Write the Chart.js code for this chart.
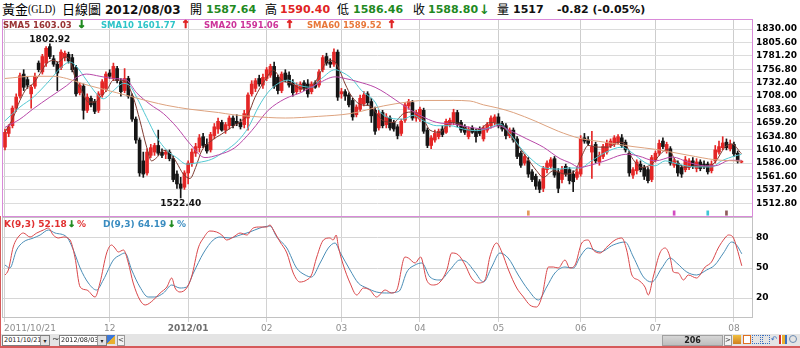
<!DOCTYPE html>
<html><head><meta charset="utf-8">
<script src="https://cdn.jsdelivr.net/npm/chart.js"></script>
<style>
body{margin:0;background:#fff;}
#wrap{position:relative;width:800px;height:348px;overflow:hidden;background:#fff;font-family:"DejaVu Sans",Verdana,sans-serif;}
.h{position:absolute;top:1px;height:18px;line-height:18px;white-space:nowrap;font-weight:bold;font-size:11px;}
.cj{position:absolute;top:0;height:18px;line-height:18px;white-space:nowrap;font-family:"Noto Sans CJK TC",serif;font-size:13px;color:#000;}
.lat{position:absolute;top:0;height:18px;line-height:18px;white-space:nowrap;font-family:"Liberation Serif",serif;font-size:12.5px;color:#000;transform:scaleX(0.8);transform-origin:0 50%;}
.lg{position:absolute;top:19px;height:12px;line-height:12px;white-space:nowrap;font-weight:bold;font-size:8.5px;z-index:5;}
.ar{font-size:11px;-webkit-text-stroke:0.6px currentColor;}
.kl{position:absolute;top:218px;height:12px;line-height:12px;white-space:nowrap;font-weight:bold;font-size:9px;z-index:5;}
.g{color:#1F8A1F}.r{color:#E02424}
canvas{position:absolute;left:0;}
.sel{position:absolute;top:335px;height:9px;width:45px;border:1px solid #7E7E7E;background:#fff;font-size:6.5px;line-height:9px;padding-left:1px;box-sizing:content-box;color:#222;white-space:nowrap;overflow:hidden;}
.dd{position:absolute;right:0;top:0;width:8px;height:9px;background:#E2E2E2;border-left:1px solid #9A9A9A;text-align:center;font-size:6px;line-height:9px;}
.ic{position:absolute;top:335px;width:8px;height:9px;}
</style></head><body>
<div id="wrap">
  <span class="cj" style="left:2px">黃金</span>
  <span class="lat" style="left:28px">(GLD)</span>
  <span class="cj" style="left:62px">日線圖</span>
  <span class="h" style="left:105px;font-size:12px;color:#111">2012/08/03</span>
  <span class="cj" style="left:190px;font-size:12px">開</span>
  <span class="h g" style="left:206px">1587.64</span>
  <span class="cj" style="left:265px;font-size:12px">高</span>
  <span class="h r" style="left:280px">1590.40</span>
  <span class="cj" style="left:337px;font-size:12px">低</span>
  <span class="h g" style="left:353px">1586.46</span>
  <span class="cj" style="left:413px;font-size:12px">收</span>
  <span class="h g" style="left:428px">1588.80</span>
  <span class="h g" style="left:479px;font-size:13px">↓</span>
  <span class="cj" style="left:497px;font-size:12px">量</span>
  <span class="h" style="left:513px;color:#111">1517</span>
  <span class="h" style="left:557px;color:#111">-0.82 (-0.05%)</span>

  <canvas id="main" width="800" height="198" style="top:19px"></canvas>
  <canvas id="kd" width="800" height="117" style="top:217px"></canvas>

  <span class="lg" style="left:3px;color:#993333">SMA5 1603.03</span>
  <span class="lg g ar" style="left:77px">↓</span>
  <span class="lg" style="left:101px;color:#2EC4C8">SMA10 1601.77</span>
  <span class="lg r ar" style="left:181px">↑</span>
  <span class="lg" style="left:204px;color:#CC3399">SMA20 1591.06</span>
  <span class="lg r ar" style="left:285px">↑</span>
  <span class="lg" style="left:307px;color:#E8783A">SMA60 1589.52</span>
  <span class="lg r ar" style="left:387px">↑</span>

  <span class="kl" style="left:4px;color:#E03030">K(9,3) 52.18</span>
  <span class="kl g ar" style="left:68px">↓</span>
  <span class="kl" style="left:77px;color:#E03030">%</span>
  <span class="kl" style="left:103px;color:#3A8CC0">D(9,3) 64.19</span>
  <span class="kl g ar" style="left:168px">↓</span>
  <span class="kl" style="left:177px;color:#3A8CC0">%</span>

  <div style="position:absolute;left:1px;top:334px;width:799px;height:12px;background:#E4E4E4"></div>
  <div class="sel" style="left:2px">2011/10/21<span class="dd">▾</span></div>
  <div style="position:absolute;left:52px;top:333px;font-size:9px;line-height:12px;color:#333">~</div>
  <div class="sel" style="left:59px">2012/08/03<span class="dd">▾</span></div>
  <div class="ic" style="left:107px;background:linear-gradient(135deg,#3C78D8 0 50%,#E8B030 50% 100%)"></div>
  <div style="position:absolute;left:117px;top:335px;width:6px;height:9px;border:1px solid #999;background:#F4F4F4;font-size:7px;line-height:9px;text-align:center;color:#333">&lt;</div>
  <div style="position:absolute;left:662px;top:335px;width:59px;height:9px;border:1px solid #A0A0A0;background:linear-gradient(#D6D6D6,#BEBEBE);font-weight:bold;font-size:8px;line-height:9px;text-align:center;color:#222">206</div>
  <div style="position:absolute;left:724px;top:335px;width:6px;height:9px;border:1px solid #999;background:#F4F4F4;font-size:7px;line-height:9px;text-align:center;color:#333">&gt;</div>
  <div class="ic" style="left:733px;background:linear-gradient(#F0C040,#D08020)"></div>
  <div class="ic" style="left:743px;width:6px;height:7px;border:1px solid #E07020;background:#fff"></div>
  <div class="ic" style="left:752px;border:1px dotted #3A6FC0;width:7px;height:7px"></div>
  <div class="ic" style="left:762px;border:1px dotted #3A6FC0;width:6px;height:7px"></div>
  <div class="ic" style="left:771px;color:#3A6FC0;font-size:8px;line-height:9px">↶</div>
  <div class="ic" style="left:779px;background:linear-gradient(90deg,#D03030 0 30%,#fff 30% 40%,#E8B030 40% 70%,#fff 70% 80%,#3A6FC0 80%)"></div>
  <div class="ic" style="left:789px;border:1px solid #6A8AB0;border-radius:50%;width:6px;height:6px"></div>
  <div style="position:absolute;left:0;top:216px;width:1px;height:132px;background:#D65A5A"></div>
  <div style="position:absolute;left:0;top:346px;width:800px;height:2px;background:#D65A5A"></div>
</div>
<script>
// ---------- data ----------
const openPrices = [1615,1640,1654,1686,1708,1748,1738,1712,1726,1768,1752,1768,1798,1776,1766,1760,1778,1784,1778,1760,
1714,1726,1682,1704,1698,1682,1710,1722,1750,1740,1758,1734,1718,1740,1708,1666,1628,1590,1568,1600,
1606,1618,1606,1602,1606,1594,1566,1548,1542,1568,1586,1604,1614,1634,1620,1610,1636,1648,1660,1646,
1654,1668,1662,1660,1656,1668,1712,1722,1740,1728,1740,1746,1762,1742,1718,1750,1746,1732,1716,1720,
1732,1730,1716,1732,1728,1756,1780,1770,1766,1788,1712,1716,1710,1700,1674,1684,1694,1712,1698,1682,
1650,1678,1656,1668,1660,1652,1640,1664,1690,1696,1668,1666,1682,1646,1618,1628,1634,1648,1642,1656,
1660,1678,1660,1652,1634,1650,1644,1648,1630,1646,1654,1660,1670,1658,1654,1636,1646,1630,1604,1586,
1590,1570,1562,1552,1540,1574,1580,1594,1570,1556,1580,1574,1566,1560,1566,1632,1628,1606,1620,1588,
1598,1606,1618,1620,1624,1632,1624,1604,1564,1572,1584,1578,1574,1556,1592,1604,1626,1608,1612,1582,
1586,1578,1574,1578,1590,1576,1588,1584,1584,1572,1590,1606,1614,1624,1612,1620,1604,1587.64];
const highPrices = [1648,1656,1690,1712,1750,1756,1744,1728,1750,1772,1784,1798,1802.92,1782,1770,1792,1790,1788,1784,1764,
1732,1730,1712,1708,1702,1716,1738,1752,1756,1768,1762,1740,1758,1744,1712,1670,1632,1606,1612,1620,
1622,1646,1612,1610,1610,1598,1572,1560,1572,1590,1612,1622,1638,1640,1630,1642,1658,1668,1664,1660,
1672,1672,1674,1666,1682,1714,1736,1740,1746,1748,1760,1766,1770,1746,1752,1756,1752,1738,1732,1734,
1736,1738,1734,1736,1756,1782,1786,1776,1794,1792,1722,1720,1714,1704,1692,1710,1716,1716,1704,1688,
1682,1682,1676,1672,1664,1656,1666,1696,1702,1700,1682,1688,1686,1650,1636,1646,1648,1654,1666,1668,
1684,1682,1664,1656,1652,1654,1648,1652,1654,1660,1672,1674,1676,1662,1658,1650,1650,1634,1608,1602,
1596,1574,1566,1556,1580,1590,1596,1598,1576,1580,1584,1578,1572,1578,1636,1640,1634,1644,1624,1606,
1620,1628,1630,1636,1638,1638,1628,1608,1578,1592,1590,1582,1578,1600,1608,1628,1632,1624,1616,1594,
1590,1582,1598,1594,1596,1594,1592,1590,1588,1590,1618,1626,1634,1630,1628,1624,1608,1590.40];
const lowPrices = [1610,1634,1650,1680,1704,1718,1722,1686,1722,1752,1748,1762,1776,1762,1718,1756,1772,1768,1752,1708,
1710,1666,1678,1688,1676,1678,1706,1716,1740,1736,1732,1708,1714,1704,1662,1622,1562,1560,1564,1596,
1600,1600,1596,1594,1590,1552,1540,1522.40,1538,1548,1580,1598,1606,1614,1604,1606,1630,1640,1644,1640,
1648,1650,1654,1648,1650,1646,1708,1716,1726,1722,1736,1742,1722,1712,1714,1734,1724,1708,1712,1716,
1718,1706,1712,1722,1724,1752,1764,1760,1762,1700,1704,1700,1688,1664,1670,1680,1690,1692,1660,1638,
1646,1650,1650,1646,1644,1630,1636,1660,1684,1664,1662,1662,1640,1614,1612,1624,1630,1634,1640,1652,
1656,1652,1642,1638,1630,1640,1624,1636,1626,1642,1650,1656,1650,1644,1630,1632,1624,1594,1578,1582,
1560,1552,1538,1532,1534,1568,1576,1560,1532,1550,1562,1548,1534,1556,1562,1622,1618,1558,1586,1582,
1594,1602,1614,1616,1620,1614,1606,1562,1558,1566,1570,1556,1550,1552,1588,1600,1612,1604,1582,1578,
1562,1560,1570,1574,1576,1570,1572,1576,1566,1568,1586,1602,1610,1610,1608,1598,1586,1586.46];
const closePrices = [1642,1652,1686,1706,1745,1724,1728,1724,1744,1756,1780,1795,1780,1766,1750,1788,1786,1772,1756,1712,
1728,1682,1706,1692,1680,1712,1734,1748,1744,1762,1736,1716,1740,1708,1666,1628,1568,1566,1606,1614,
1618,1604,1600,1606,1594,1556,1548,1540,1568,1586,1606,1616,1632,1618,1608,1638,1652,1662,1646,1656,
1668,1654,1658,1652,1676,1710,1730,1736,1730,1742,1756,1762,1726,1718,1748,1738,1728,1714,1728,1730,
1722,1712,1730,1724,1752,1778,1768,1766,1788,1706,1716,1708,1692,1670,1688,1704,1710,1696,1672,1644,
1676,1654,1670,1650,1648,1636,1662,1692,1698,1668,1678,1684,1644,1618,1632,1640,1644,1638,1662,1664,
1678,1656,1646,1642,1648,1642,1634,1640,1650,1656,1668,1670,1654,1648,1636,1646,1628,1598,1582,1598,
1566,1556,1544,1538,1576,1586,1592,1564,1540,1574,1566,1554,1552,1570,1630,1626,1622,1616,1590,1600,
1616,1622,1626,1632,1634,1618,1610,1568,1574,1588,1574,1562,1554,1596,1604,1622,1616,1620,1586,1590,
1568,1566,1592,1590,1580,1588,1576,1580,1570,1584,1610,1616,1622.55,1614,1620,1602.73,1589.62,1588.80];

const sma5Day = [0,2.2,4,5.8,7.6,9.4,11.1,12.9,14.3,16.1,17.4,18.7,20.5,22.3,24.1,25.4,27.2,29,30.8,32.6,
34.3,36.1,37.9,39.2,40.6,42.4,44.1,45.9,47.7,49.5,51,52.6,55.3,58,60.6,63.3,65.1,66.9,69.6,71.8,
74,76.7,79.4,82,84.7,86.5,88.3,89.5,91,92.7,95.4,97.7,99.4,101.2,103.9,106.6,109.2,111.9,113.7,116.4,
119.1,121.7,124.4,127.1,129.8,132,134.2,136.9,139.6,142.2,144,146.7,149.8,152.5,154.3,156,158.7,161.4,164.1,165.9,
167.7,170.3,173,175.7,177.5,179.2,181.9,184.6,187.3,189.9,192.6,194.4,197];
const sma5 = [1642,1669,1700,1722,1731,1749,1767,1773,1770,1779,1773,1743,1718,1697,1697,1706,1718,1737,1737,1731,
1706,1663,1615,1590,1596,1609,1605,1587,1566,1558,1578,1608,1627,1639,1651,1663,1676,1706,1737,1755,
1737,1731,1721,1724,1755,1773,1770,1755,1730,1708,1692,1690,1676,1663,1660,1676,1679,1666,1646,1642,
1660,1657,1645,1648,1660,1657,1645,1621,1596,1572,1560,1572,1566,1572,1599,1618,1615,1615,1624,1621,
1596,1578,1584,1605,1611,1593,1578,1581,1579,1587,1615,1621,1603.03];

const sma10Day = [0,4,7.6,12,14.7,17.4,19.2,21.8,24.5,26.3,29,31.7,33.4,35.2,37.9,40.6,43.3,45.9,48.6,51.7,
55.3,58.9,62.4,65.1,67.8,70.4,73.1,75.8,78.5,82,84.7,88.3,90,92.7,95.4,99,100.3,103,106.6,109.2,
111.9,115.5,119.1,122.6,126.2,129.8,132.4,135.1,137.8,141.3,144,148.5,150.7,153.8,156.9,160.5,165,167.7,171.2,173.9,
176.6,180.1,184.6,189,191.7,195.3,197];
const sma10 = [1663,1688,1706,1737,1758,1770,1761,1737,1712,1703,1718,1731,1727,1706,1669,1633,1609,1596,1584,1587,
1593,1608,1627,1651,1688,1715,1731,1737,1728,1724,1740,1756,1752,1740,1718,1697,1680,1668,1666,1673,
1663,1654,1654,1648,1645,1651,1657,1639,1615,1590,1578,1575,1577,1577,1590,1605,1615,1605,1587,1581,
1590,1584,1579,1579,1590,1599,1601.77];

const sma20Day = [0,4,7.6,12,16.5,19.2,21.8,25.4,29,32.5,35.2,38.8,42.4,46,49.5,53.5,57.1,61.5,66,70.4,
74.9,79.4,83.8,88.3,91,94.5,99,102.1,106.6,111,115.5,120,124.4,128.9,132,135.1,139.6,144,148.5,151,
153.8,156,160.5,165,166.8,169.4,174,178.5,183,187.2,190,193.8,197];
const sma20 = [1651,1666,1685,1706,1727,1742,1748,1744,1740,1737,1714,1693,1676,1651,1621,1596,1601,1614,1645,1682,
1703,1715,1731,1743,1740,1734,1724,1712,1691,1673,1660,1657,1651,1648,1654,1645,1630,1615,1594,1587,
1578,1581,1590,1601,1602,1599,1590,1597,1587,1581,1581,1591,1591.06];

const sma60Day = [0,7.6,12.9,16.5,21,25.4,29.9,34.3,38.8,43.3,49.5,57.1,61,66,75,83.8,92.3,101.2,107.5,112,
120,124.4,128,132,136,142,148,153.8,160.5,168,174,183,190,197];
const sma60 = [1740,1744,1744,1740,1730,1722,1714,1706,1698,1691,1684,1678,1674,1671,1668,1671,1676,1690,1697,1700,
1700,1699,1692,1686,1678,1662,1644,1631,1624,1616,1611,1600,1592,1589.52];

const kDay = [0,0.9,2.2,4,4.9,6.7,8.5,10.3,11.6,12.9,14.3,15.6,17.4,18.7,20.1,21.9,24.1,25.4,27.2,28.5,
29.4,30.3,31.7,33,34.3,36.1,37.5,39.7,41.5,43.3,44.6,45.5,46.8,48.6,49.9,51.7,53.1,54.8,56.6,58,
59.3,61.1,62.9,64.7,66.4,68.2,70,70.9,71.8,73.6,75.4,77.1,78.9,80.7,82,83.4,85.2,86.9,87.8,88.6,
89.2,90.5,92.3,94.1,95.9,97.6,99.4,101.7,103.4,104.8,107,107.9,109.7,111.2,112.8,114.6,116.4,118.2,119.5,121.3,
123.1,124.8,126.6,128.4,129.7,131.5,132.9,134.7,136.9,138.7,140.4,142.2,143.6,145.4,146.7,148,149.8,151.1,152.5,154.3,
156,157.4,159.2,161,163.2,165,166.3,167.7,169.4,171.2,172.1,173.4,175.2,176.6,177.9,178.8,180.1,181.5,182.8,185,
187.3,189,190.8,192.6,193.5,194.9,195.7,197.1];
const kValues = [43,48,71,83,85,81,85,88,90,83,80,81,78,61,31,28,21,35,65,73,
70,66,68,55,35,18,13,18,25,31,40,30,26,30,41,70,80,87,86,83,
78,81,85,83,90,91,91,93,88,76,65,45,36,38,43,61,78,80,78,83,
71,53,35,23,30,28,21,28,25,28,61,60,55,61,38,33,36,48,65,63,
53,40,35,38,61,75,66,48,30,21,13,11,21,51,51,50,58,50,53,75,
78,68,65,71,78,80,68,43,38,31,23,41,65,70,61,46,45,38,43,40,
51,56,70,80,83,80,71,52.18];

const dDay = [0,1.3,3.1,4.9,7.6,9.4,11.6,13.4,16.5,18.3,20.1,22.3,24.5,26.3,29,30.8,32.1,33.9,36.1,38.3,
40.1,42.4,44.6,46.8,48.6,50.4,53.1,55.7,57.5,60.2,62.9,65.5,68.2,70.9,72.7,75.4,78,80.3,82,84.3,
86.5,88.3,89.6,92.3,94.5,96.8,99.4,102.1,104.8,105.7,107.5,109.7,111.5,113.7,116.4,119,121.7,123.5,125.7,128,
130.2,132.4,134.6,137.3,140,142.7,144.9,147.1,149.8,152.1,153.8,156,159.2,162.7,165.9,168.1,170.8,173,175.7,177.9,
179.7,182.4,185,187.7,189.9,192.2,194.4,195.7,197.1];
const dValues = [53,50,68,76,80,83,88,85,81,68,50,35,28,38,58,63,65,48,31,21,
21,25,33,30,31,45,65,78,81,80,83,86,90,92,81,70,50,43,41,55,
70,75,66,48,35,30,26,25,26,28,46,53,55,41,38,48,58,56,46,36,
51,65,60,43,28,18,31,45,51,50,61,70,66,73,76,61,41,36,50,60,
55,46,43,48,53,65,76,73,64.19];

const priceTicks = [1830.00,1805.60,1781.20,1756.80,1732.40,1708.00,1683.60,1659.20,1634.80,1610.40,1586.00,1561.60,1537.20,1512.80];
const kdTicks = [80,50,20];
const monthDays = [0,28,49,70,90,111,132,154,174,195];
const monthLabels = ["2011/10/21","12","2012/01","02","03","04","05","06","07","08"];
const signalDays = [140,179,188,193];

// ---------- drawing ----------
const UP = '#E42626', DOWN = '#151515';
const signalColors = ['#E49A5C','#D24CC0','#3EC6D6','#8E5A5A'];
const days = closePrices.map((_, i) => i);
const candleColors = days.map(i => closePrices[i] >= openPrices[i] ? UP : DOWN);
const pts = (xs, ys) => xs.map((x, j) => ({x: x, y: ys[j]}));
const X_MIN = -0.8, X_MAX = 200.1;
const FONT = '"DejaVu Sans", Verdana, sans-serif';

function framePlugin(color) {
  return { id: 'frame', afterDraw(chart) {
    const {ctx, chartArea: a} = chart;
    ctx.save(); ctx.strokeStyle = color; ctx.lineWidth = 1;
    ctx.strokeRect(a.left + 0.5, a.top + 0.5, a.right - a.left - 1, a.bottom - a.top - 1);
    ctx.restore();
  }};
}

const extremesPlugin = { id: 'extremes', afterDatasetsDraw(chart) {
  const {ctx, scales: {x, y}} = chart;
  const hi = Math.max(...highPrices), lo = Math.min(...lowPrices);
  const hiI = highPrices.indexOf(hi), loI = lowPrices.indexOf(lo);
  ctx.save();
  ctx.font = 'bold 9px ' + FONT; ctx.fillStyle = '#111'; ctx.textAlign = 'center';
  ctx.textBaseline = 'alphabetic';
  ctx.fillText(hi.toFixed(2), x.getPixelForValue(hiI), y.getPixelForValue(hi) - 1.5);
  ctx.fillText(lo.toFixed(2), x.getPixelForValue(loI), y.getPixelForValue(lo) + 8.5);
  ctx.restore();
}};

const monthLabelPlugin = { id: 'monthLabels', afterDraw(chart) {
  const {ctx, scales: {x}, chartArea: a} = chart;
  ctx.save(); ctx.textBaseline = 'middle';
  monthDays.forEach((d, j) => {
    const lab = monthLabels[j];
    const bold = lab.length === 7;
    ctx.font = (bold ? 'bold ' : '') + '9px ' + FONT;
    ctx.fillStyle = bold ? '#6E6E6E' : '#8E8E8E';
    const px = x.getPixelForValue(d);
    ctx.textAlign = j === 0 ? 'left' : 'center';
    ctx.fillText(lab, j === 0 ? px - 1 : px, a.bottom + 10.5);
  });
  ctx.restore();
}};

const xAxis = (gridColor, tickLen, h) => ({
  type: 'linear', min: X_MIN, max: X_MAX, offset: false,
  grid: {color: gridColor, drawTicks: tickLen > 0, tickLength: tickLen, offset: false},
  border: {display: false},
  ticks: {display: false},
  afterBuildTicks: s => { s.ticks = monthDays.map(v => ({value: v})); },
  afterFit: s => { s.height = h; s.paddingLeft = 0; s.paddingRight = 0; }
});

const yTicks = fmt => ({padding: 3, color: '#000', autoSkip: false,
  font: {family: FONT, size: 9, weight: 'bold'}, callback: fmt});

const lineDs = (label, data, color, order) => ({type: 'line', label, data, borderColor: color,
  borderWidth: 1, pointRadius: 0, cubicInterpolationMode: 'monotone', order});

Chart.defaults.animation = false;

new Chart(document.getElementById('main'), {
  type: 'bar',
  data: { datasets: [
    lineDs('SMA60', pts(sma60Day, sma60), '#DDA27E', 1),
    lineDs('SMA20', pts(sma20Day, sma20), '#B848A8', 1),
    lineDs('SMA10', pts(sma10Day, sma10), '#52C8D2', 1),
    lineDs('SMA5', pts(sma5Day, sma5), '#7E3A30', 1),
    {label: 'wick', data: days.map(i => ({x: i, y: [lowPrices[i], highPrices[i]]})),
      backgroundColor: candleColors, barThickness: 1, grouped: false, order: 3},
    {label: 'body', data: days.map(i => ({x: i, y: [openPrices[i], closePrices[i]]})),
      backgroundColor: candleColors, barThickness: 3, minBarLength: 1, grouped: false, order: 2},
    {label: 'signal', data: signalDays.map(d => ({x: d, y: [1491, 1499]})),
      backgroundColor: signalColors, barThickness: 2, grouped: false, order: 2}
  ]},
  options: {
    responsive: false, devicePixelRatio: 1, animation: false,
    layout: {padding: {left: 2, top: 0, right: 0, bottom: 0}},
    plugins: {legend: {display: false}, tooltip: {enabled: false}},
    scales: {
      x: xAxis('#CDCDCD', 0, 0),
      y: {position: 'right', min: 1487.8, max: 1848.3,
        grid: {color: '#DCDCDC', drawTicks: false}, border: {display: false},
        ticks: yTicks(v => Number(v).toFixed(2)),
        afterBuildTicks: s => { s.ticks = priceTicks.map(v => ({value: v})); },
        afterFit: s => { s.width = 47; s.paddingTop = 0; s.paddingBottom = 0; }}
    }
  },
  plugins: [framePlugin('#D98AD9'), extremesPlugin]
});

new Chart(document.getElementById('kd'), {
  type: 'line',
  data: { datasets: [
    lineDs('K', pts(kDay, kValues), '#D9474A', 1),
    lineDs('D', pts(dDay, dValues), '#4A8DB6', 2)
  ]},
  options: {
    responsive: false, devicePixelRatio: 1, animation: false,
    layout: {padding: {left: 2, top: 0, right: 0, bottom: 0}},
    plugins: {legend: {display: false}, tooltip: {enabled: false}},
    scales: {
      x: xAxis('#D2D2D2', 4, 16),
      y: {position: 'right', min: 0, max: 101,
        grid: {color: '#D6D6D6', drawTicks: false}, border: {display: false},
        ticks: yTicks(v => String(v)),
        afterBuildTicks: s => { s.ticks = kdTicks.map(v => ({value: v})); },
        afterFit: s => { s.width = 47; s.paddingTop = 0; s.paddingBottom = 0; }}
    }
  },
  plugins: [framePlugin('#C2C2C2'), monthLabelPlugin]
});
</script>
</body></html>
